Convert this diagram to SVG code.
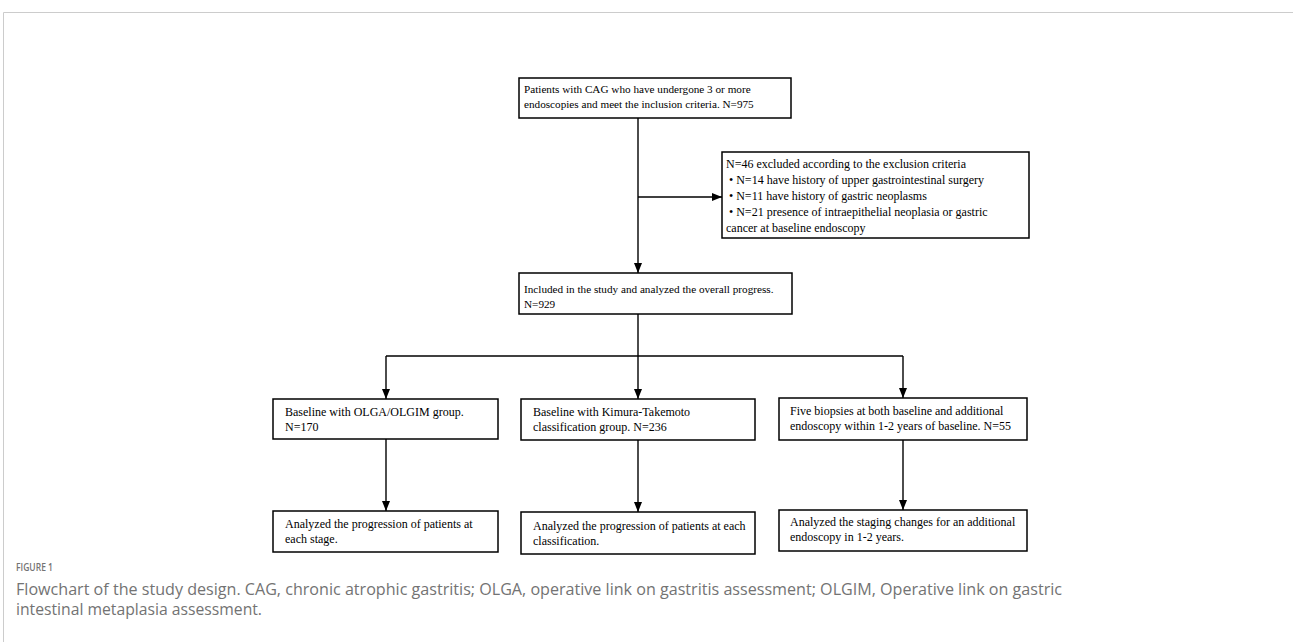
<svg xmlns="http://www.w3.org/2000/svg" width="1293" height="642" viewBox="0 0 1293 642">
<defs>
<marker id="ah" markerWidth="10" markerHeight="8" refX="10" refY="4" orient="auto" markerUnits="userSpaceOnUse">
<path d="M0,0 L10,4 L0,8 Z" fill="#000"/>
</marker>
<style>
.box{fill:#fff;stroke:#000;stroke-width:1.5}
.t11{font-family:"Liberation Serif","Times New Roman",serif;font-size:11.2px;fill:#000}
.t12{font-family:"Liberation Serif","Times New Roman",serif;font-size:12px;fill:#000}
.ln{fill:none;stroke:#000;stroke-width:1.4}
.cap{font-family:"Open Sans","Noto Sans",sans-serif;fill:#737373}
</style>
</defs>
<rect width="1293" height="642" fill="#fff"/>
<path d="M3.5,642 V12.5 H1293" fill="none" stroke="#cccccc" stroke-width="1"/>
<g id="connectors">
<line class="ln" x1="638" y1="118" x2="638" y2="273" marker-end="url(#ah)"/>
<line class="ln" x1="638" y1="197" x2="722" y2="197" marker-end="url(#ah)"/>
<line class="ln" x1="638" y1="314" x2="638" y2="356"/>
<line class="ln" x1="386" y1="356" x2="903" y2="356"/>
<line class="ln" x1="386" y1="356" x2="386" y2="399" marker-end="url(#ah)"/>
<line class="ln" x1="638" y1="356" x2="638" y2="399" marker-end="url(#ah)"/>
<line class="ln" x1="903" y1="356" x2="903" y2="398" marker-end="url(#ah)"/>
<line class="ln" x1="386" y1="439" x2="386" y2="511" marker-end="url(#ah)"/>
<line class="ln" x1="638" y1="440" x2="638" y2="512" marker-end="url(#ah)"/>
<line class="ln" x1="903" y1="440" x2="903" y2="510" marker-end="url(#ah)"/>
</g>
<g id="n1">
<rect class="box" x="519" y="78" width="272" height="40"/>
<text class="t11" x="524" y="93">Patients with CAG who have undergone 3 or more</text>
<text class="t11" x="524" y="108">endoscopies and meet the inclusion criteria. N=975</text>
</g>
<g id="n2">
<rect class="box" x="722" y="152" width="307" height="86"/>
<text class="t12" x="726" y="168">N=46 excluded according to the exclusion criteria</text>
<text class="t12" x="729" y="184">• N=14 have history of upper gastrointestinal surgery</text>
<text class="t12" x="729" y="200">• N=11 have history of gastric neoplasms</text>
<text class="t12" x="729" y="216">• N=21 presence of intraepithelial neoplasia or gastric</text>
<text class="t12" x="726" y="232">cancer at baseline endoscopy</text>
</g>
<g id="n3">
<rect class="box" x="519" y="273" width="273" height="41"/>
<text class="t11" x="524" y="293">Included in the study and analyzed the overall progress.</text>
<text class="t11" x="524" y="308">N=929</text>
</g>
<g id="n4">
<rect class="box" x="273" y="399" width="225" height="40"/>
<text class="t12" x="285" y="416">Baseline with OLGA/OLGIM  group.</text>
<text class="t12" x="285" y="431">N=170</text>
</g>
<g id="n5">
<rect class="box" x="521" y="399" width="234" height="41"/>
<text class="t12" x="533" y="416">Baseline with Kimura-Takemoto</text>
<text class="t12" x="533" y="431">classification group. N=236</text>
</g>
<g id="n6">
<rect class="box" x="779" y="398" width="248" height="42"/>
<text class="t12" x="790" y="415">Five biopsies at both baseline and additional</text>
<text class="t12" x="790" y="430">endoscopy within 1-2 years of baseline. N=55</text>
</g>
<g id="n7">
<rect class="box" x="273" y="511" width="225" height="41"/>
<text class="t12" x="285" y="528">Analyzed the progression of patients at</text>
<text class="t12" x="285" y="543">each stage.</text>
</g>
<g id="n8">
<rect class="box" x="521" y="512" width="234" height="42"/>
<text class="t12" x="533" y="530">Analyzed the progression of patients at each</text>
<text class="t12" x="533" y="545">classification.</text>
</g>
<g id="n9">
<rect class="box" x="779" y="510" width="248" height="41"/>
<text class="t12" x="790" y="526">Analyzed the staging changes for an additional</text>
<text class="t12" x="790" y="541">endoscopy in 1-2 years.</text>
</g>
<g id="caption">
<text class="cap" x="16" y="571" font-size="11.5" font-weight="600" textLength="37" lengthAdjust="spacingAndGlyphs">FIGURE 1</text>
<text class="cap" x="16" y="595" font-size="16" textLength="1046" lengthAdjust="spacingAndGlyphs">Flowchart of the study design. CAG, chronic atrophic gastritis; OLGA, operative link on gastritis assessment; OLGIM, Operative link on gastric</text>
<text class="cap" x="16" y="615" font-size="16" textLength="246" lengthAdjust="spacingAndGlyphs">intestinal metaplasia assessment.</text>
</g>
</svg>
